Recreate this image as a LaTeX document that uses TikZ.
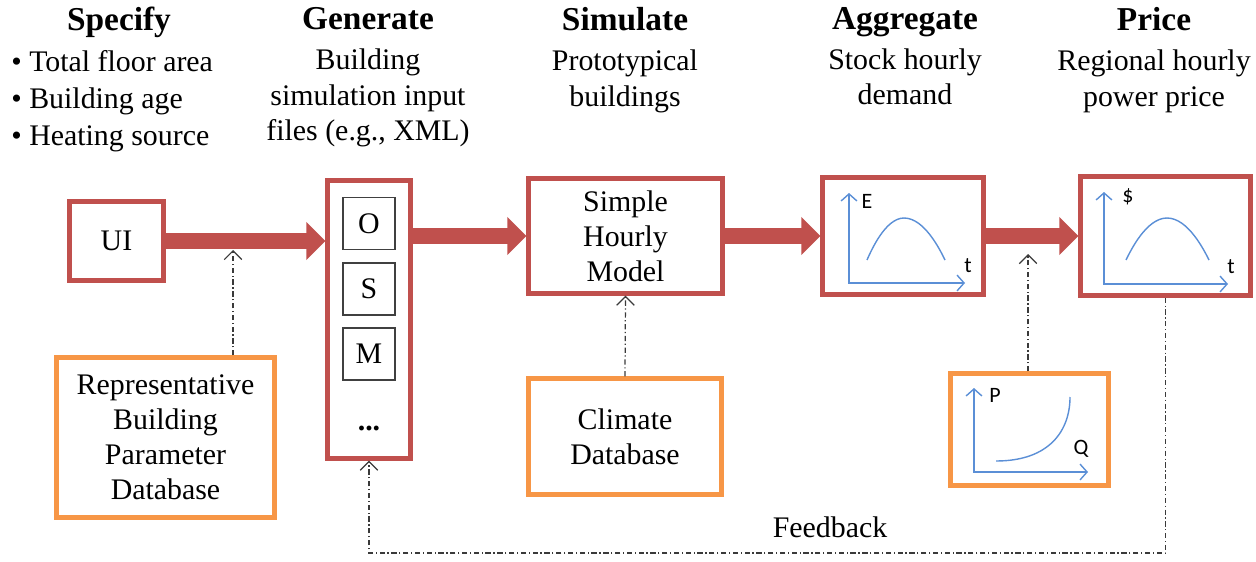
\documentclass[tikz,border=0pt]{standalone}
\usepackage{fontspec}
\setmainfont{Liberation Serif}
\newfontfamily\chartfont{Carlito}
\usetikzlibrary{arrows.meta, calc}

\definecolor{boxred}{HTML}{C0504D}
\definecolor{boxorange}{HTML}{F79646}
\definecolor{chartblue}{HTML}{5B8FD6}
\definecolor{linkgray}{HTML}{3A3A3A}

\newcommand{\colhead}[1]{{\bfseries\fontsize{19}{21}\selectfont #1}}

\begin{document}
\begin{tikzpicture}[
  every node/.style={font=\fontsize{17}{20}\selectfont},
  redbox/.style={draw=boxred, line width=2.4pt, align=center},
  orangebox/.style={draw=boxorange, line width=2.4pt, align=center},
  letterbox/.style={draw=black!75, line width=0.9pt, minimum width=1.04cm, minimum height=1.04cm},
  flow/.style={boxred, line width=0.32cm, -{Triangle[length=0.38cm, width=0.74cm]}},
  dataarrow/.style={draw=linkgray, line width=0.7pt, dash pattern=on 3pt off 1.5pt on 0.7pt off 1.5pt, -{Straight Barb[length=5pt, width=10pt]}},
  axis/.style={chartblue, line width=0.8pt, {Straight Barb[length=4pt, width=9pt]}-{Straight Barb[length=4pt, width=9pt]}},
  curve/.style={chartblue, line width=0.8pt},
  chartlabel/.style={font=\chartfont\fontsize{12.5}{14}\selectfont},
  colnode/.style={align=center, anchor=north, inner sep=0pt},
]
\useasboundingbox (0,0) rectangle (25.12,11.22);

% column headings
\node (hspec) at (2.38, 11.08) [colnode] {\colhead{Specify}};
\node (lspec) at (0.22, 10.22) [anchor=north west, align=left, inner sep=0pt, font=\fontsize{17}{21}\selectfont] {\textbullet\ Total floor area\\ \textbullet\ Building age\\ \textbullet\ Heating source};
\node (hgen) at (7.36, 11.08) [colnode] {\colhead{Generate}\\[3pt] Building\\ simulation input\\ files (e.g., XML)};
\node (hsim) at (12.5, 11.08) [colnode] {\colhead{Simulate}\\[3pt] Prototypical\\ buildings};
\node (hagg) at (18.1, 11.08) [colnode] {\colhead{Aggregate}\\[3pt] Stock hourly\\ demand};
\node (hprice) at (23.08, 11.08) [colnode] {\colhead{Price}\\[3pt] Regional hourly\\ power price};

% main chain
\node (ui) at (2.33, 6.4) [redbox, minimum width=1.88cm, minimum height=1.58cm] {UI};
\node (gen) at (7.38, 4.83) [redbox, minimum width=1.66cm, minimum height=5.56cm] {};
\node (o) at (7.38, 6.75) [letterbox] {O};
\node (s) at (7.38, 5.44) [letterbox] {S};
\node (m) at (7.38, 4.14) [letterbox] {M};
\node (more) at (7.38, 2.66) {\textbf{...}};
\node (shm) at (12.51, 6.5) [redbox, minimum width=3.88cm, minimum height=2.3cm] {Simple\\ Hourly\\ Model};
\node (agg) at (18.06, 6.5) [redbox, minimum width=3.22cm, minimum height=2.34cm] {};
\node (price) at (23.31, 6.5) [redbox, minimum width=3.4cm, minimum height=2.38cm] {};

% data sources
\node (rep) at (3.31, 2.47) [orangebox, minimum width=4.36cm, minimum height=3.2cm] {Representative\\ Building\\ Parameter\\ Database};
\node (clim) at (12.5, 2.49) [orangebox, minimum width=3.86cm, minimum height=2.32cm] {Climate\\ Database};
\node (pq) at (20.59, 2.63) [orangebox, minimum width=3.16cm, minimum height=2.24cm] {};

\draw[flow] (ui.east) -- (ui.east -| gen.west);
\draw[flow] (gen.east |- shm.west) -- (shm.west);
\draw[flow] (shm.east) -- (agg.west);
\draw[flow] (agg.east) -- (price.west);

\coordinate (uilink) at (4.66, 6.22);
\coordinate (agglink) at (20.56, 6.14);
\coordinate (fbcorner) at (7.38, 0.16);
\draw[dataarrow] (rep.north -| uilink) -- (uilink);
\draw[dataarrow] (clim.north) -- (shm.south);
\draw[dataarrow] (pq.north -| agglink) -- (agglink);
\draw[dataarrow] (price.south) |- (fbcorner) -- (gen.south);
\node (fb) at (16.6, 0.68) {Feedback};

% small charts
\draw[axis] (16.98,7.36) -- (16.98,5.56) -- (19.3,5.56);
\draw[curve] (17.34,6.02) parabola bend (18.08,6.86) (18.9,6.02);
\node (elab) at (17.34,7.2) [chartlabel] {E};
\node (tlab) at (19.36,5.9) [chartlabel] {t};

\draw[axis] (22.08,7.38) -- (22.08,5.54) -- (24.56,5.54);
\draw[curve] (22.52,6.02) parabola bend (23.34,6.86) (24.18,6.02);
\node (dlab) at (22.56,7.28) [chartlabel] {\$};
\node (tlab2) at (24.62,5.88) [chartlabel] {t};

\draw[axis] (19.48,3.46) -- (19.48,1.78) -- (21.76,1.78);
\draw[curve] (19.92,2.0) .. controls (21.0,2.0) and (21.4,2.62) .. (21.4,3.28);
\node (plab) at (19.9,3.32) [chartlabel] {P};
\node (qlab) at (21.62,2.24) [chartlabel] {Q};
\end{tikzpicture}
\end{document}
